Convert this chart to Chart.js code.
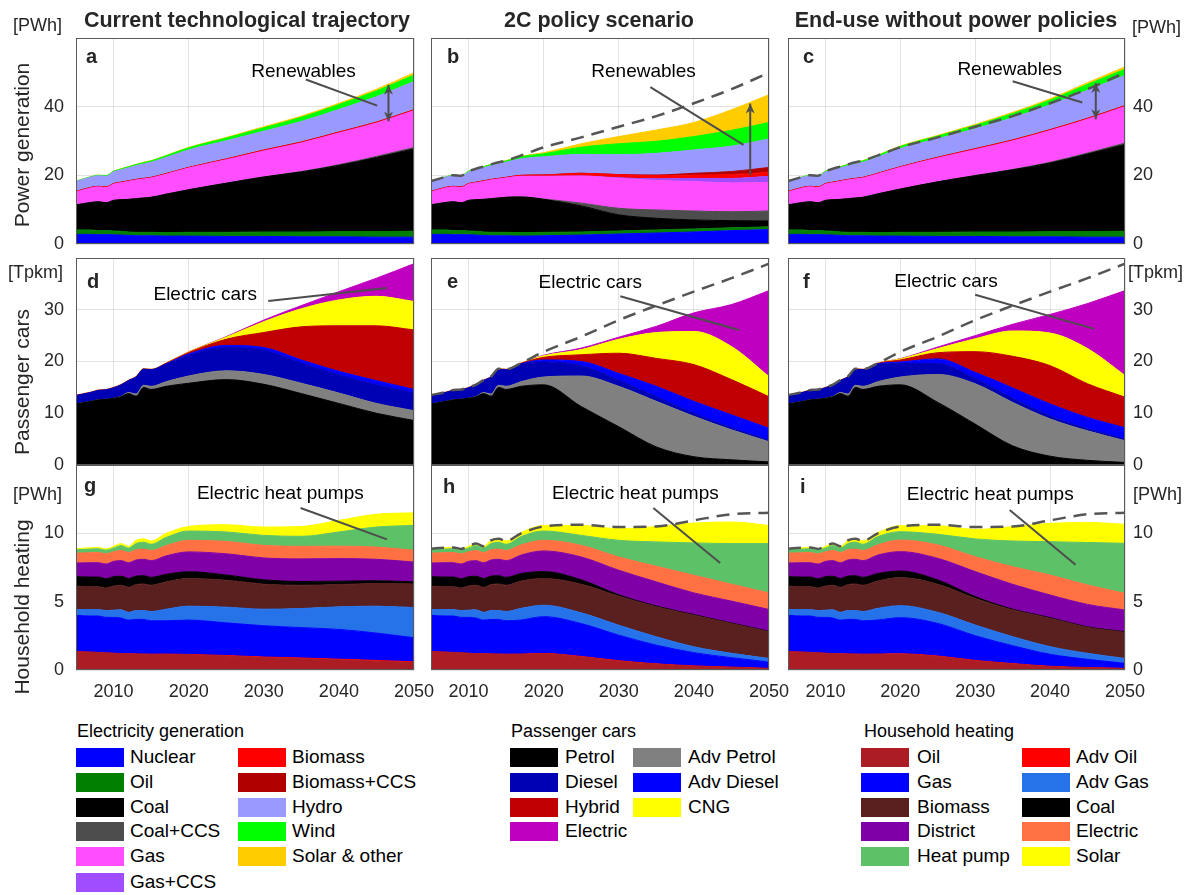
<!DOCTYPE html>
<html>
<head>
<meta charset="utf-8">
<script src="https://cdn.jsdelivr.net/npm/chart.js@4.4.1/dist/chart.umd.min.js"></script>
<style>
  html, body { margin: 0; padding: 0; background: #fff; }
  #page { position: relative; width: 1195px; height: 895px; overflow: hidden;
          font-family: 'Liberation Sans', Arial, Helvetica, sans-serif; color: #262626; }
  canvas { position: absolute; }
  .t { position: absolute; white-space: nowrap; }
  .coltitle { font-weight: bold; font-size: 21.5px; line-height: 26px; width: 440px; text-align: center; }
  .ytitle { font-size: 21px; line-height: 24px; transform: translate(-50%, -50%) rotate(-90deg); }
  .unit { font-size: 18px; line-height: 22px; }
  .lgtitle { font-size: 18px; line-height: 22px; color: #000; }
  .lg { font-size: 19px; line-height: 22px; color: #000; }
  .sw { position: absolute; width: 48px; height: 19px; }
</style>
</head>
<body>
<div id="page"></div>
<script>
// ---------- time axis ----------
const YEARS = [2005,2007,2008,2009,2010,2011,2012,2013,2014,2015,2017,2020,2025,2030,2035,2040,2045,2050];

// ---------- electricity generation [PWh] ----------
const POWER_NAMES  = ['Nuclear','Oil','Coal','Coal+CCS','Gas','Gas+CCS','Biomass','Biomass+CCS','Hydro','Wind','Solar & other'];
const POWER_COLORS = ['#0000FF','#007F00','#000000','#4D4D4D','#FF4DFF','#9F4DFF','#FF0000','#B00000','#9999FF','#00FF00','#FFCC00'];

// current technological trajectory
const nuclearA = [2.8,2.8,2.7,2.7,2.7,2.6,2.5,2.4,2.4,2.4,2.3,2.3,2.2,2.2,2.1,2.1,2.0,2.0];
const oilA     = [1.3,1.3,1.2,1.2,1.1,1.1,1.0,1.0,1.0,1.0,1.0,1.1,1.2,1.3,1.4,1.5,1.6,1.7];
const coalA    = [7.3,8.0,8.4,8.1,8.9,9.2,9.5,9.8,10.0,10.2,11.2,12.4,14.3,16.0,17.5,19.3,21.6,24.0];
const coalCcsA = [0,0,0,0,0,0,0,0,0,0,0,0,0,0.05,0.1,0.2,0.3,0.4];
const gasA     = [3.7,4.2,4.3,4.4,4.7,4.9,5.2,5.4,5.5,5.6,5.8,6.3,6.8,7.5,8.3,9.2,9.7,10.7];
const gasCcsA  = [0,0,0,0,0,0,0,0,0,0,0,0,0,0,0,0,0,0];
const bioA     = [0.2,0.2,0.2,0.2,0.2,0.2,0.2,0.2,0.2,0.2,0.2,0.2,0.25,0.3,0.3,0.3,0.3,0.3];
const bioCcsA  = [0,0,0,0,0,0,0,0,0,0,0,0,0,0,0,0,0,0];
const hydroA   = [2.9,3.0,3.1,3.1,3.4,3.6,3.8,4.0,4.2,4.4,4.7,5.1,5.3,5.5,6.0,6.6,7.4,8.2];
const windA    = [0.1,0.1,0.15,0.2,0.2,0.25,0.3,0.35,0.4,0.4,0.5,0.6,0.8,1.0,1.2,1.4,1.7,1.9];
const solarA   = [0,0,0,0,0,0.05,0.05,0.05,0.1,0.1,0.1,0.15,0.2,0.3,0.35,0.4,0.5,0.7];

// 2C policy scenario
const nuclearB = [2.8,2.8,2.7,2.7,2.7,2.6,2.5,2.4,2.4,2.4,2.3,2.4,2.6,2.9,3.2,3.5,3.9,4.2];
const oilB     = [1.3,1.3,1.2,1.2,1.1,1.1,1.0,1.0,1.0,1.0,1.0,1.0,0.9,0.9,0.9,0.9,0.8,0.8];
const coalB    = [7.3,8.0,8.4,8.1,8.9,9.2,9.5,9.8,10.0,10.2,10.4,9.6,7.6,4.7,3.4,2.6,2.1,1.7];
const coalCcsB = [0,0,0,0,0,0,0,0,0,0,0,0.1,0.8,1.9,2.4,2.6,2.6,2.9];
const gasB     = [3.7,4.2,4.3,4.4,4.7,4.9,5.2,5.4,5.5,5.6,6.0,6.6,7.9,8.7,8.6,8.6,8.4,8.3];
const gasCcsB  = [0,0,0,0,0,0,0,0,0,0,0,0,0,0.2,0.5,0.9,1.3,1.8];
const bioB     = [0.2,0.2,0.2,0.2,0.2,0.2,0.2,0.2,0.2,0.2,0.3,0.4,0.8,0.9,0.9,1.0,1.1,1.2];
const bioCcsB  = [0,0,0,0,0,0,0,0,0,0,0,0,0,0,0.2,0.5,0.9,1.4];
const hydroB   = [2.9,3.0,3.1,3.1,3.4,3.6,3.8,4.0,4.2,4.4,4.8,5.3,5.5,5.8,6.3,6.8,7.4,8.3];
const windB    = [0.1,0.1,0.15,0.2,0.2,0.25,0.3,0.35,0.4,0.4,0.6,0.9,2.1,3.2,3.5,3.9,4.6,4.8];
const solarB   = [0,0,0,0,0,0.05,0.05,0.05,0.1,0.1,0.15,0.3,1.0,2.1,3.3,4.1,6.0,8.1];

// end-use policies without power policies
const nuclearC = [2.8,2.8,2.7,2.7,2.7,2.6,2.5,2.4,2.4,2.4,2.3,2.3,2.2,2.2,2.1,2.1,2.0,2.0];
const oilC     = [1.3,1.3,1.2,1.2,1.1,1.1,1.0,1.0,1.0,1.0,1.0,1.1,1.2,1.3,1.4,1.5,1.6,1.7];
const coalC    = [7.3,8.0,8.4,8.1,8.9,9.2,9.5,9.8,10.0,10.2,11.3,12.6,14.7,16.4,18.1,20.0,22.6,25.3];
const coalCcsC = [0,0,0,0,0,0,0,0,0,0,0,0,0,0.05,0.1,0.2,0.3,0.4];
const gasC     = [3.7,4.2,4.3,4.4,4.7,4.9,5.2,5.4,5.5,5.6,5.8,6.3,6.9,7.5,8.3,9.2,9.8,10.6];
const gasCcsC  = [0,0,0,0,0,0,0,0,0,0,0,0,0,0,0,0,0,0];
const bioC     = [0.2,0.2,0.2,0.2,0.2,0.2,0.2,0.2,0.2,0.2,0.2,0.2,0.25,0.3,0.3,0.3,0.3,0.3];
const bioCcsC  = [0,0,0,0,0,0,0,0,0,0,0,0,0,0,0,0,0,0];
const hydroC   = [2.9,3.0,3.1,3.1,3.4,3.6,3.8,4.0,4.2,4.4,4.7,5.3,5.4,5.8,6.5,7.2,8.2,8.8];
const windC    = [0.1,0.1,0.15,0.2,0.2,0.25,0.3,0.35,0.4,0.4,0.5,0.6,0.8,1.0,1.2,1.4,1.7,1.8];
const solarC   = [0,0,0,0,0,0.05,0.05,0.05,0.1,0.1,0.1,0.15,0.2,0.3,0.35,0.4,0.5,0.7];

// ---------- passenger cars [Tpkm] ----------
const CAR_NAMES  = ['Petrol','Adv Petrol','Diesel','Adv Diesel','Hybrid','CNG','Electric'];
const CAR_COLORS = ['#000000','#808080','#0000B4','#0000FF','#C00000','#FFFF00','#C000C0'];

const petrolD    = [11.8,12.3,12.6,12.7,12.9,13.2,13.8,13.3,15.0,14.6,15.2,15.8,16.5,15.6,13.8,11.9,10.0,8.6];
const advPetrolD = [0,0,0,0,0,0.05,0.2,0.4,0.4,0.6,0.9,1.4,1.7,1.9,2.0,2.0,1.9,1.9];
const dieselD    = [1.6,1.7,1.8,1.8,2.0,2.2,2.3,3.3,3.1,3.2,3.4,4.0,4.5,4.7,3.9,3.5,3.6,3.4];
const advDieselD = [0,0,0,0,0,0,0,0,0,0,0.05,0.25,0.4,0.5,0.6,0.7,0.8,0.7];
const hybridD    = [0.05,0.05,0.05,0.05,0.05,0.05,0.05,0.05,0.05,0.05,0.1,0.3,1.2,2.9,6.4,8.8,10.6,11.5];
const cngD       = [0.05,0.05,0.05,0.05,0.05,0.05,0.05,0.05,0.05,0.05,0.05,0.1,0.4,2.1,3.5,5.0,5.7,5.5];
const electricD  = [0,0,0,0,0,0,0,0,0,0,0,0.02,0.1,0.3,0.6,1.6,3.5,7.3];

const petrolE    = [11.8,12.3,12.6,12.7,12.9,13.2,13.8,13.3,15.0,14.6,15.2,15.5,11.3,7.4,3.5,1.6,1.0,0.6];
const advPetrolE = [0,0,0,0,0,0.05,0.2,0.4,0.4,0.6,0.9,1.5,5.9,7.8,8.8,7.8,5.8,3.9];
const dieselE    = [1.6,1.7,1.8,1.8,2.0,2.2,2.3,3.3,3.1,3.2,3.4,2.9,2.0,1.2,0.9,0.6,0.4,0.3];
const advDieselE = [0,0,0,0,0,0,0,0,0,0,0.05,0.4,0.8,1.3,2.0,2.3,2.5,2.3];
const hybridE    = [0.05,0.05,0.05,0.05,0.05,0.05,0.05,0.05,0.05,0.05,0.1,0.5,1.3,3.9,5.4,7.1,6.8,6.1];
const cngE       = [0.05,0.05,0.05,0.05,0.05,0.05,0.05,0.05,0.05,0.05,0.05,0.3,1.0,2.7,5.0,6.4,6.4,3.9];
const electricE  = [0,0,0,0,0,0,0,0,0,0,0,0.1,0.3,0.4,1.2,3.6,8.1,16.6];

const petrolF    = [11.8,12.3,12.6,12.7,12.9,13.2,13.8,13.3,15.0,14.6,15.2,15.5,12.1,7.9,3.7,1.7,0.9,0.5];
const advPetrolF = [0,0,0,0,0,0.05,0.2,0.4,0.4,0.6,0.9,1.5,5.4,7.8,8.4,7.2,5.7,4.2];
const dieselF    = [1.6,1.7,1.8,1.8,2.0,2.2,2.3,3.3,3.1,3.2,3.4,2.6,2.1,1.0,0.8,0.6,0.4,0.3];
const advDieselF = [0,0,0,0,0,0,0,0,0,0,0.05,0.3,0.9,1.2,2.0,2.3,2.2,2.2];
const hybridF    = [0.05,0.05,0.05,0.05,0.05,0.05,0.05,0.05,0.05,0.05,0.1,0.4,1.2,4.0,6.1,7.4,6.5,5.9];
const cngF       = [0.05,0.05,0.05,0.05,0.05,0.05,0.05,0.05,0.05,0.05,0.05,0.2,0.8,2.5,4.9,6.3,6.8,4.2];
const electricF  = [0,0,0,0,0,0,0,0,0,0,0,0.05,0.3,0.6,1.3,3.6,8.7,16.4];

// ---------- household heating [PWh] ----------
const HEAT_NAMES  = ['Oil','Adv Oil','Gas','Adv Gas','Biomass','Coal','District','Electric','Heat pump','Solar'];
const HEAT_COLORS = ['#AC1C24','#FF0000','#0000FF','#2672E8','#5A1F1F','#000000','#7F00A6','#FF7043','#5DC168','#FFFF00'];

const hOilG      = [1.34,1.3,1.28,1.25,1.22,1.2,1.18,1.17,1.16,1.15,1.15,1.12,1.02,0.9,0.82,0.73,0.64,0.54];
const hAdvOilG   = [0,0,0,0,0,0,0,0,0,0,0.01,0.02,0.04,0.05,0.06,0.06,0.06,0.06];
const hGasG      = [2.66,2.65,2.67,2.6,2.63,2.6,2.47,2.53,2.54,2.45,2.44,2.51,2.39,2.29,2.22,2.18,2.0,1.76];
const hAdvGasG   = [0.43,0.47,0.47,0.5,0.53,0.6,0.57,0.65,0.65,0.68,0.85,1.02,1.15,1.21,1.4,1.65,1.97,2.21];
const hBioG      = [1.7,1.68,1.68,1.65,1.77,1.8,1.83,1.9,1.95,1.92,2.0,2.02,1.97,1.83,1.7,1.63,1.66,1.73];
const hCoalG     = [0.7,0.7,0.7,0.68,0.68,0.66,0.65,0.62,0.6,0.58,0.55,0.5,0.38,0.32,0.28,0.25,0.2,0.15];
const hDistrictG = [1.0,1.05,1.05,1.07,1.12,1.14,1.15,1.18,1.2,1.22,1.35,1.45,1.55,1.6,1.65,1.65,1.57,1.45];
const hElecG     = [0.73,0.73,0.75,0.75,0.7,0.75,0.75,0.75,0.75,0.75,0.75,0.85,0.91,0.92,0.92,0.91,0.9,0.86];
const hPumpG     = [0.24,0.27,0.27,0.27,0.28,0.35,0.32,0.45,0.5,0.45,0.6,0.68,0.69,0.73,0.73,1.04,1.46,1.82];
const hSolarG    = [0.08,0.1,0.1,0.09,0.12,0.15,0.13,0.24,0.25,0.24,0.3,0.33,0.53,0.61,0.72,0.85,0.94,0.92];

const hOilH      = [1.34,1.3,1.28,1.25,1.22,1.2,1.18,1.17,1.16,1.15,1.15,1.18,0.95,0.64,0.42,0.27,0.18,0.1];
const hAdvOilH   = [0,0,0,0,0,0,0,0,0,0,0.01,0.03,0.04,0.04,0.03,0.03,0.03,0.02];
const hGasH      = [2.66,2.65,2.67,2.6,2.63,2.6,2.47,2.53,2.54,2.45,2.5,2.69,2.41,1.87,1.37,0.97,0.69,0.46];
const hAdvGasH   = [0.43,0.47,0.47,0.5,0.53,0.6,0.57,0.65,0.65,0.68,0.85,0.84,0.78,0.73,0.61,0.43,0.32,0.27];
const hBioH      = [1.7,1.68,1.68,1.65,1.77,1.8,1.83,1.9,1.95,1.92,2.0,1.96,2.1,2.12,2.19,2.3,2.18,1.95];
const hCoalH     = [0.7,0.7,0.7,0.68,0.68,0.66,0.65,0.62,0.6,0.58,0.55,0.5,0.32,0.1,0.06,0.05,0.04,0.03];
const hDistrictH = [1.0,1.05,1.05,1.07,1.12,1.14,1.15,1.18,1.2,1.22,1.35,1.51,1.67,1.8,1.77,1.59,1.6,1.6];
const hElecH     = [0.73,0.73,0.75,0.75,0.7,0.75,0.75,0.75,0.75,0.75,0.75,0.78,0.85,0.97,1.14,1.29,1.24,1.21];
const hPumpH     = [0.24,0.27,0.27,0.27,0.28,0.35,0.32,0.45,0.5,0.45,0.6,0.68,0.73,1.22,1.78,2.37,2.97,3.61];
const hSolarH    = [0.08,0.1,0.1,0.09,0.12,0.15,0.13,0.24,0.25,0.24,0.3,0.41,0.73,0.85,1.13,1.45,1.58,1.33];

const hOilI      = [1.34,1.3,1.28,1.25,1.22,1.2,1.18,1.17,1.16,1.15,1.15,1.15,0.98,0.66,0.44,0.24,0.16,0.1];
const hAdvOilI   = [0,0,0,0,0,0,0,0,0,0,0.01,0.03,0.04,0.04,0.03,0.03,0.02,0.02];
const hGasI      = [2.66,2.65,2.67,2.6,2.63,2.6,2.47,2.53,2.54,2.45,2.5,2.65,2.39,1.81,1.31,0.88,0.6,0.37];
const hAdvGasI   = [0.43,0.47,0.47,0.5,0.53,0.6,0.57,0.65,0.65,0.68,0.85,0.88,0.81,0.78,0.66,0.56,0.44,0.36];
const hBioI      = [1.7,1.68,1.68,1.65,1.77,1.8,1.83,1.9,1.95,1.92,2.0,2.05,2.05,1.95,1.95,2.07,1.9,1.91];
const hCoalI     = [0.7,0.7,0.7,0.68,0.68,0.66,0.65,0.62,0.6,0.58,0.55,0.48,0.32,0.13,0.06,0.05,0.04,0.04];
const hDistrictI = [1.0,1.05,1.05,1.07,1.12,1.14,1.15,1.18,1.2,1.22,1.35,1.42,1.58,1.83,1.82,1.66,1.64,1.59];
const hElecI     = [0.73,0.73,0.75,0.75,0.7,0.75,0.75,0.75,0.75,0.75,0.75,0.85,0.98,1.09,1.29,1.46,1.42,1.22];
const hPumpI     = [0.24,0.27,0.27,0.27,0.28,0.35,0.32,0.45,0.5,0.45,0.6,0.61,0.78,1.3,1.88,2.44,3.11,3.66];
const hSolarI    = [0.08,0.1,0.1,0.09,0.12,0.15,0.13,0.24,0.25,0.24,0.3,0.44,0.63,0.7,1.05,1.34,1.47,1.39];

// ---------- axis ticks ----------
const X_TICKS = [2010, 2020, 2030, 2040, 2050];
const POWER_TICKS = [0, 20, 40];
const CAR_TICKS = [0, 10, 20, 30];
const HEAT_TICKS = [0, 5, 10];

// ---------- stacks per panel ----------
const POWER_A = [nuclearA, oilA, coalA, coalCcsA, gasA, gasCcsA, bioA, bioCcsA, hydroA, windA, solarA];
const POWER_B = [nuclearB, oilB, coalB, coalCcsB, gasB, gasCcsB, bioB, bioCcsB, hydroB, windB, solarB];
const POWER_C = [nuclearC, oilC, coalC, coalCcsC, gasC, gasCcsC, bioC, bioCcsC, hydroC, windC, solarC];
const CARS_D = [petrolD, advPetrolD, dieselD, advDieselD, hybridD, cngD, electricD];
const CARS_E = [petrolE, advPetrolE, dieselE, advDieselE, hybridE, cngE, electricE];
const CARS_F = [petrolF, advPetrolF, dieselF, advDieselF, hybridF, cngF, electricF];
const HEAT_G = [hOilG, hAdvOilG, hGasG, hAdvGasG, hBioG, hCoalG, hDistrictG, hElecG, hPumpG, hSolarG];
const HEAT_H = [hOilH, hAdvOilH, hGasH, hAdvGasH, hBioH, hCoalH, hDistrictH, hElecH, hPumpH, hSolarH];
const HEAT_I = [hOilI, hAdvOilI, hGasI, hAdvGasI, hBioI, hCoalI, hDistrictI, hElecI, hPumpI, hSolarI];

// total of the current-trajectory stack, shown dashed in the policy panels
const stackTotal = stack => YEARS.map((_, k) => stack.reduce((s, arr) => s + arr[k], 0));
const totalPowerA = stackTotal(POWER_A);
const totalCarsD = stackTotal(CARS_D);
const totalHeatG = stackTotal(HEAT_G);

// ---------- page layout ----------
const FONT = "'Liberation Sans', Arial, Helvetica, sans-serif";
Chart.defaults.font.family = FONT;
Chart.defaults.color = '#262626';

const COLS = [
  { left: 0,   width: 436, padL: 0,  padR: 22, yPos: 'left',  yW: 76, yTicks: true,  tickPad: 12 },
  { left: 413, width: 378, padL: 0,  padR: 22, yPos: 'left',  yW: 18, yTicks: false, tickPad: 0 },
  { left: 772, width: 423, padL: 16, padR: 0,  yPos: 'right', yW: 70, yTicks: true,  tickPad: 8 }
];
const ROWS = [
  { top: 26,  height: 230, padT: 12, padB: 12, xH: 0,  xTicks: false, yMax: 60, ticks: POWER_TICKS },
  { top: 246, height: 231, padT: 12, padB: 12, xH: 0,  xTicks: false, yMax: 40, ticks: CAR_TICKS },
  { top: 453, height: 253, padT: 12, padB: 4,  xH: 32, xTicks: true,  yMax: 15, ticks: HEAT_TICKS }
];

const page = document.getElementById('page');

// fixed axis sizes, no extra room reserved for overhanging tick labels
function fixSize(scale, w, h) {
  if (w !== null) scale.width = w;
  if (h !== null) scale.height = h;
  scale.paddingLeft = 0; scale.paddingRight = 0;
  scale.paddingTop = 0; scale.paddingBottom = 0;
}

// frame, panel letter and callouts
const panelDecor = {
  id: 'panelDecor',
  afterDatasetsDraw(chart, args, o) {
    const { ctx, chartArea: a, scales: { x, y } } = chart;
    ctx.save();
    ctx.strokeStyle = '#5a5a5a';
    ctx.lineWidth = 1;
    ctx.strokeRect(Math.round(a.left) + 0.5, Math.round(a.top) + 0.5,
                   Math.round(a.right - a.left) - 1, Math.round(a.bottom - a.top) - 1);

    ctx.fillStyle = '#262626';
    ctx.font = 'bold 20px ' + FONT;
    ctx.textAlign = 'left';
    ctx.textBaseline = 'alphabetic';
    ctx.fillText(o.letter, a.left + o.dx, a.top + o.dy);

    ctx.strokeStyle = '#4d4d4d';
    ctx.fillStyle = '#4d4d4d';
    ctx.lineWidth = 2;
    const [x1, y1, x2, y2] = o.lead;
    ctx.beginPath();
    ctx.moveTo(x.getPixelForValue(x1), y.getPixelForValue(y1));
    ctx.lineTo(x.getPixelForValue(x2), y.getPixelForValue(y2));
    ctx.stroke();

    if (o.arrow) {
      const ax = x.getPixelForValue(o.arrow.x);
      const yLo = y.getPixelForValue(o.arrow.from);
      const yHi = y.getPixelForValue(o.arrow.to);
      ctx.beginPath();
      ctx.moveTo(ax, yLo);
      ctx.lineTo(ax, yHi);
      ctx.stroke();
      const head = (py, dir) => {
        ctx.beginPath();
        ctx.moveTo(ax, py);
        ctx.lineTo(ax - 4.5, py + dir * 10);
        ctx.lineTo(ax, py + dir * 7);
        ctx.lineTo(ax + 4.5, py + dir * 10);
        ctx.closePath();
        ctx.fill();
      };
      head(yHi, 1);
      if (o.arrow.both) head(yLo, -1);
    }

    ctx.fillStyle = '#000';
    ctx.font = '19px ' + FONT;
    ctx.textAlign = 'center';
    ctx.textBaseline = 'middle';
    ctx.fillText(o.text, x.getPixelForValue(o.tx), y.getPixelForValue(o.ty));
    ctx.restore();
  }
};

function panel(row, col, stack, colors, names, reference, decor) {
  const R = ROWS[row], C = COLS[col];
  const cv = document.createElement('canvas');
  cv.width = C.width; cv.height = R.height;
  cv.style.left = C.left + 'px'; cv.style.top = R.top + 'px';
  cv.style.width = C.width + 'px'; cv.style.height = R.height + 'px';
  page.appendChild(cv);

  const datasets = [];
  if (reference) {
    datasets.push({
      data: reference.map((v, k) => ({ x: YEARS[k], y: v })),
      stack: 'ref', fill: false, borderColor: '#555555', borderWidth: 2.5,
      borderDash: [13, 8], pointRadius: 0, cubicInterpolationMode: 'monotone'
    });
  }
  stack.forEach((vals, i) => {
    datasets.push({
      label: names[i],
      data: vals.map((v, k) => ({ x: YEARS[k], y: v })),
      backgroundColor: colors[i], borderColor: colors[i], borderWidth: 1,
      fill: i === 0 ? 'origin' : '-1',
      pointRadius: 0, cubicInterpolationMode: 'monotone'
    });
  });

  new Chart(cv, {
    type: 'line',
    data: { datasets },
    plugins: [panelDecor],
    options: {
      responsive: false, animation: false, devicePixelRatio: 1,
      layout: { padding: { left: C.padL, right: C.padR, top: R.padT, bottom: R.padB } },
      plugins: { legend: { display: false }, tooltip: { enabled: false }, panelDecor: decor },
      scales: {
        x: {
          type: 'linear', min: 2005, max: 2050,
          afterBuildTicks: s => { s.ticks = X_TICKS.map(v => ({ value: v })); },
          afterFit: s => fixSize(s, null, R.xH),
          grid: { color: 'rgba(0,0,0,0.11)', drawTicks: false },
          border: { display: false },
          ticks: { display: R.xTicks, padding: 11, maxRotation: 0, autoSkip: false,
                   font: { size: 18 }, color: '#262626', callback: v => String(v) }
        },
        y: {
          type: 'linear', min: 0, max: R.yMax, stacked: true, position: C.yPos,
          afterBuildTicks: s => { s.ticks = R.ticks.map(v => ({ value: v })); },
          afterFit: s => fixSize(s, C.yW, null),
          grid: { color: 'rgba(0,0,0,0.11)', drawTicks: false },
          border: { display: false },
          ticks: { display: C.yTicks, padding: C.tickPad, font: { size: 18 },
                   color: '#262626', callback: v => String(v) }
        }
      }
    }
  });
}

// row 1: power generation
panel(0, 0, POWER_A, POWER_COLORS, POWER_NAMES, null,
  { letter: 'a', dx: 10, dy: 25, text: 'Renewables', tx: 2035.3, ty: 50.3,
    lead: [2035.6, 47.9, 2045.1, 40.3], arrow: { x: 2046.6, from: 35.7, to: 46.4, both: true } });
panel(0, 1, POWER_B, POWER_COLORS, POWER_NAMES, totalPowerA,
  { letter: 'b', dx: 16, dy: 25, text: 'Renewables', tx: 2033.3, ty: 50.3,
    lead: [2034.2, 45.7, 2046.6, 28.9], arrow: { x: 2047.5, from: 20.0, to: 40.9, both: false } });
panel(0, 2, POWER_C, POWER_COLORS, POWER_NAMES, totalPowerA,
  { letter: 'c', dx: 15, dy: 25, text: 'Renewables', tx: 2034.6, ty: 50.8,
    lead: [2035.0, 47.4, 2044.3, 41.2], arrow: { x: 2046.1, from: 36.3, to: 46.9, both: true } });

// row 2: passenger cars
panel(1, 0, CARS_D, CAR_COLORS, CAR_NAMES, null,
  { letter: 'd', dx: 11, dy: 30, text: 'Electric cars', tx: 2022.2, ty: 32.9,
    lead: [2030.6, 31.7, 2046.4, 34.2] });
panel(1, 1, CARS_E, CAR_COLORS, CAR_NAMES, totalCarsD,
  { letter: 'e', dx: 16, dy: 30, text: 'Electric cars', tx: 2026.2, ty: 35.2,
    lead: [2030.2, 32.6, 2046.0, 26.1] });
panel(1, 2, CARS_F, CAR_COLORS, CAR_NAMES, totalCarsD,
  { letter: 'f', dx: 15, dy: 30, text: 'Electric cars', tx: 2026.1, ty: 35.5,
    lead: [2030.0, 32.9, 2045.9, 26.3] });

// row 3: household heating
panel(2, 0, HEAT_G, HEAT_COLORS, HEAT_NAMES, null,
  { letter: 'g', dx: 8, dy: 27, text: 'Electric heat pumps', tx: 2032.2, ty: 12.9,
    lead: [2034.9, 11.85, 2046.4, 9.56] });
panel(2, 1, HEAT_H, HEAT_COLORS, HEAT_NAMES, totalHeatG,
  { letter: 'h', dx: 12, dy: 28, text: 'Electric heat pumps', tx: 2032.2, ty: 12.9,
    lead: [2034.6, 11.85, 2043.5, 7.83] });
panel(2, 2, HEAT_I, HEAT_COLORS, HEAT_NAMES, totalHeatG,
  { letter: 'i', dx: 12, dy: 28, text: 'Electric heat pumps', tx: 2032.0, ty: 12.8,
    lead: [2034.6, 11.7, 2043.4, 7.7] });

// ---------- text around the grid ----------
function addText(cls, text, left, top) {
  const d = document.createElement('div');
  d.className = 't ' + cls;
  d.textContent = text;
  d.style.left = left + 'px';
  d.style.top = top + 'px';
  page.appendChild(d);
  return d;
}
addText('coltitle', 'Current technological trajectory', 247 - 220, 7);
addText('coltitle', '2C policy scenario', 599 - 220, 7);
addText('coltitle', 'End-use without power policies', 956 - 220, 7);

addText('ytitle', 'Power generation', 22, 145);
addText('ytitle', 'Passenger cars', 22, 382);
addText('ytitle', 'Household heating', 22, 607);

addText('unit', '[PWh]', 13, 14);
addText('unit', '[Tpkm]', 8, 261);
addText('unit', '[PWh]', 13, 483);
addText('unit', '[PWh]', 1132, 16);
addText('unit', '[Tpkm]', 1128, 261);
addText('unit', '[PWh]', 1133, 483);

// ---------- legends ----------
const LEGEND_ROWS = [757, 782, 807, 831, 856, 882];
const LEGENDS = [
  { title: 'Electricity generation', x: 77, sx: [76, 238], tx: [130, 292],
    names: POWER_NAMES, colors: POWER_COLORS, cols: [[0,1,2,3,4,5],[6,7,8,9,10]] },
  { title: 'Passenger cars', x: 511, sx: [510, 633], tx: [565, 688],
    names: CAR_NAMES, colors: CAR_COLORS, cols: [[0,2,4,6],[1,3,5]] },
  { title: 'Household heating', x: 864, sx: [861, 1022], tx: [917, 1076],
    names: HEAT_NAMES, colors: HEAT_COLORS, cols: [[0,2,4,6,8],[1,3,5,7,9]] }
];
LEGENDS.forEach(L => {
  addText('lgtitle', L.title, L.x, 720);
  L.cols.forEach((idx, c) => {
    idx.forEach((k, r) => {
      const cy = LEGEND_ROWS[r];
      const sw = document.createElement('div');
      sw.className = 'sw';
      sw.style.left = L.sx[c] + 'px';
      sw.style.top = (cy - 9.5) + 'px';
      sw.style.background = L.colors[k];
      page.appendChild(sw);
      addText('lg', L.names[k], L.tx[c], cy - 11);
    });
  });
});
</script>
</body>
</html>
